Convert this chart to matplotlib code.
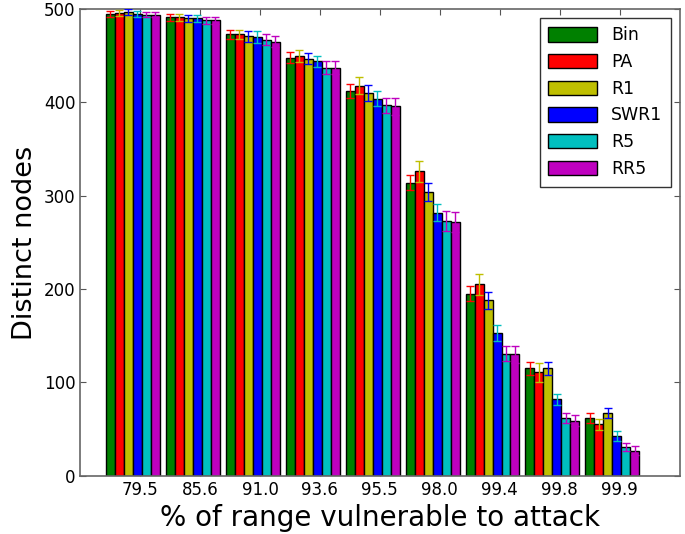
import numpy as np
import matplotlib
matplotlib.use("Agg")
import matplotlib.pyplot as plt

tick_labels = ["79.5", "85.6", "91.0", "93.6", "95.5", "98.0", "99.4", "99.8", "99.9"]
series = ["Bin", "PA", "R1", "SWR1", "R5", "RR5"]

bin_vals = [495, 491, 473, 448, 412, 314, 195, 115, 62]
pa_vals = [496, 491, 473, 450, 418, 326, 205, 111, 55]
r1_vals = [497, 490, 471, 447, 410, 304, 188, 115, 67]
swr1_vals = [495, 490, 470, 444, 404, 282, 153, 82, 43]
r5_vals = [494, 488, 467, 437, 397, 273, 131, 62, 31]
rr5_vals = [494, 488, 465, 437, 396, 272, 130, 59, 27]

bin_err = [3, 4, 5, 6, 7.5, 8, 8, 7, 5.5]
pa_err = [3, 4, 5, 6.5, 9, 11, 11.5, 10, 6]
r1_err = [3, 4, 6, 6, 9, 9.5, 9, 6.5, 5.5]
swr1_err = [3, 4, 6, 6, 8, 9, 8.5, 6, 5.5]
r5_err = [3, 4, 6, 7, 8, 10.5, 8, 5.5, 4]
rr5_err = [3, 4, 6, 7, 9, 11, 9, 6, 4.5]

values = [bin_vals, pa_vals, r1_vals, swr1_vals, r5_vals, rr5_vals]
errors = [bin_err, pa_err, r1_err, swr1_err, r5_err, rr5_err]
colors = ["g", "r", "y", "b", "c", "m"]
err_colors = ["r", "y", "b", "c", "m", "m"]

fig = plt.figure(figsize=(6.85, 5.34), dpi=100)
ax = fig.add_axes([0.117, 0.109, 0.875, 0.874])

ind = np.arange(len(tick_labels))
width = 0.15
for i, name in enumerate(series):
    ax.bar(ind + i * width, values[i], width, align="edge", color=colors[i],
           edgecolor="k", linewidth=1, label=name, zorder=2)
    ax.errorbar(ind + i * width + width / 2, values[i], yerr=errors[i], fmt="none",
                ecolor=err_colors[i], elinewidth=1, capsize=3, capthick=1, zorder=3)

ax.set_xlim(-0.43, 9.57)
ax.set_ylim(0, 500)
ax.set_xticks(ind + 0.57)
ax.set_xticklabels(tick_labels)
ax.set_yticks(range(0, 501, 100))
ax.tick_params(direction="in", top=True, right=True, labelsize=12, length=4, color="#555555")
for s in ax.spines.values():
    s.set_color("#666666")
    s.set_linewidth(1.2)

ax.set_ylabel("Distinct nodes", fontsize=19.5)
ax.set_xlabel("% of range vulnerable to attack", fontsize=20)

leg = ax.legend(loc="upper right", fontsize=12.5, fancybox=False, framealpha=1,
                handlelength=2.8, handleheight=0.9, borderpad=0.5, labelspacing=0.5)
leg.get_frame().set_edgecolor("#333333")
leg.set_zorder(5)

fig.savefig("out.png")
